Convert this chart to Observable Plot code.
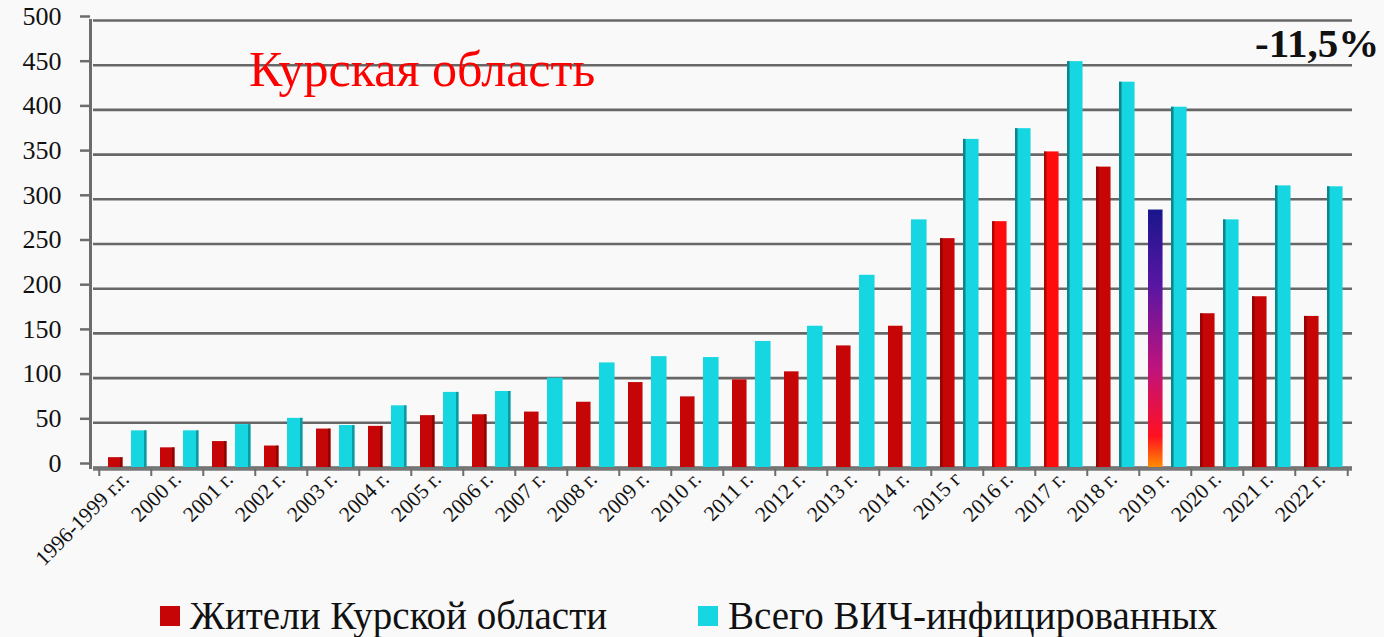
<!DOCTYPE html>
<html>
<head>
<meta charset="utf-8">
<script src="https://cdn.jsdelivr.net/npm/d3@7"></script>
<script src="https://cdn.jsdelivr.net/npm/@observablehq/plot@0.6"></script>
<style>
  html, body { margin: 0; padding: 0; background: #f9f9f9; overflow: hidden; }
  #wrap { position: relative; width: 1384px; height: 637px; overflow: hidden; background: #f9f9f9; font-family: "Liberation Serif", "Times New Roman", serif; }
  #chart { position: absolute; left: 0; top: 0; }
  .title { position: absolute; left: 249px; top: 44px; font-size: 50px; color: #ff0000; line-height: 1; white-space: nowrap; }
  .pct { position: absolute; left: 1255px; top: 23px; font-size: 41px; font-weight: bold; color: #111; line-height: 1; white-space: nowrap; }
  .legend { position: absolute; top: 597px; left: 0; width: 1384px; height: 38px; }
  .item { position: absolute; top: 0; display: flex; align-items: center; height: 38px; line-height: 38px; white-space: nowrap; font-size: 39px; color: #111; }
  .sw { width: 20px; height: 20px; margin-right: 10px; }
</style>
</head>
<body>
<div id="wrap">
  <div id="chart"></div>
  <div class="title" id="title"></div>
  <div class="pct" id="pct"></div>
  <div class="legend" id="legend"></div>
</div>
<script>
// ---- data ----
const years = ["1996-1999 г.г.", "2000 г.", "2001 г.", "2002 г.", "2003 г.", "2004 г.", "2005 г.", "2006 г.",
  "2007 г.", "2008 г.", "2009 г.", "2010 г.", "2011 г.", "2012 г.", "2013 г.", "2014 г.", "2015 г",
  "2016 г.", "2017 г.", "2018 г.", "2019 г.", "2020 г.", "2021 г.", "2022 г."];
const residents = [11, 22, 29, 24, 43, 46, 58, 59, 62, 73, 95, 79, 98, 107, 136, 158, 256, 275, 353, 336, 288, 172, 191, 169];
const totalHIV = [41, 41, 48, 55, 47, 69, 84, 85, 100, 117, 124, 123, 141, 158, 215, 277, 367, 379, 454, 431, 403, 277, 315, 314];
const yTicks = [0, 50, 100, 150, 200, 250, 300, 350, 400, 450, 500];
const seriesNames = ["Жители Курской области", "Всего ВИЧ-инфицированных"];
const titleText = "Курская область";
const changeText = "-11,5%";

// ---- styling ----
const RED = "#c60606", RED_BRIGHT = "#ff0d0d", CYAN = "#16d7e1";
const RED_SIDE = "#6e0000", CYAN_SIDE = "#0c6f76";
const brightYears = new Set(["2016 г.", "2017 г."]);
const gradientYear = "2019 г.";

const rows = years.map((year, i) => ({year, i, residents: residents[i], total: totalHIV[i]}));

const W = 1384, H = 590;
const mL = 93, mR = 32, mT = 20, mB = 123;
const step = (W - mL - mR) / years.length;

// bar geometry within a band (as insets)
const redL = 9, redW = 15, cyL = 32, cyW = 16, side = 3;
const ins = (l, w) => ({insetLeft: l, insetRight: step - l - w});

const plot = Plot.plot({
  width: W, height: H,
  marginLeft: mL, marginRight: mR, marginTop: mT, marginBottom: mB,
  style: {background: "transparent", fontFamily: "'Liberation Serif', serif", color: "#111", overflow: "visible"},
  x: {type: "band", domain: years, padding: 0, axis: null, label: null},
  y: {domain: [0, 500], axis: null, label: null},
  marks: [
    Plot.gridY(yTicks, {stroke: "#676767", strokeOpacity: 1, strokeWidth: 2.6}),
    Plot.frame({anchor: "left", dx: -3, stroke: "#6c6c6c", strokeWidth: 3}),
    Plot.axisY(yTicks, {label: null, tickSize: 10, tickPadding: 19, dx: -3, dy: -4, fontSize: 26, stroke: "#6c6c6c", strokeWidth: 2.5, fill: "#111"}),
    // residents bars
    Plot.barY(rows.filter(d => !brightYears.has(d.year) && d.year !== gradientYear), {x: "year", y: "residents", fill: RED, ...ins(redL, redW)}),
    Plot.barY(rows.filter(d => brightYears.has(d.year)), {x: "year", y: "residents", fill: RED_BRIGHT, ...ins(redL, redW)}),
    Plot.barY(rows.filter(d => d.year === gradientYear), {x: "year", y: "residents", fill: "url(#g2019)", ...ins(redL, redW)}),
    // total bars
    Plot.barY(rows, {x: "year", y: "total", fill: CYAN, ...ins(cyL, cyW)}),
    // 3D side faces
    Plot.barY(rows.filter(d => d.i <= 7), {x: "year", y: "residents", fill: RED_SIDE, fillOpacity: 0.6, ...ins(redL + redW - side, side)}),
    Plot.barY(rows.filter(d => d.i <= 7), {x: "year", y: "total", fill: CYAN_SIDE, fillOpacity: 0.6, ...ins(cyL + cyW - side, side)}),
    Plot.barY(rows.filter(d => d.i >= 16 && d.year !== gradientYear), {x: "year", y: "residents", fill: RED_SIDE, fillOpacity: 0.55, ...ins(redL, side)}),
    Plot.barY(rows.filter(d => d.i >= 16), {x: "year", y: "total", fill: CYAN_SIDE, fillOpacity: 0.8, ...ins(cyL, side)}),
    // floor line
    Plot.ruleY([0], {stroke: "#777", strokeWidth: 3.5, dy: 1.5}),
    // category boundary ticks
    Plot.axisX(years, {label: null, tickSize: 7, text: null, dx: -step / 2, dy: 2, stroke: "#6c6c6c", strokeWidth: 2}),
    Plot.axisX([years[years.length - 1]], {label: null, tickSize: 7, text: null, dx: step / 2, dy: 2, stroke: "#6c6c6c", strokeWidth: 2}),
    // labels
    Plot.axisX(years, {label: null, tickSize: 0, tickPadding: 8, tickRotate: -45, fontSize: 21.5, dx: 0, fill: "#111"})
  ]
});

// gradient for the highlighted bar
const svg = d3.select(plot);
const defs = svg.insert("defs", ":first-child");
const g = defs.append("linearGradient").attr("id", "g2019").attr("x1", 0).attr("y1", 0).attr("x2", 0).attr("y2", 1);
[[0, "#19168c"], [0.3, "#5a16a2"], [0.62, "#c0137c"], [0.88, "#ff1020"], [1, "#ff8c00"]]
  .forEach(([o, c]) => g.append("stop").attr("offset", o).attr("stop-color", c));

document.getElementById("chart").append(plot);
document.getElementById("title").textContent = titleText;
document.getElementById("pct").textContent = changeText;

const legend = document.getElementById("legend");
[[seriesNames[0], RED, 160], [seriesNames[1], CYAN, 698]].forEach(([name, color, left]) => {
  const it = document.createElement("div");
  it.className = "item";
  it.style.left = left + "px";
  const sw = document.createElement("span");
  sw.className = "sw";
  sw.style.background = color;
  it.append(sw, document.createTextNode(name));
  legend.append(it);
});
</script>
</body>
</html>
